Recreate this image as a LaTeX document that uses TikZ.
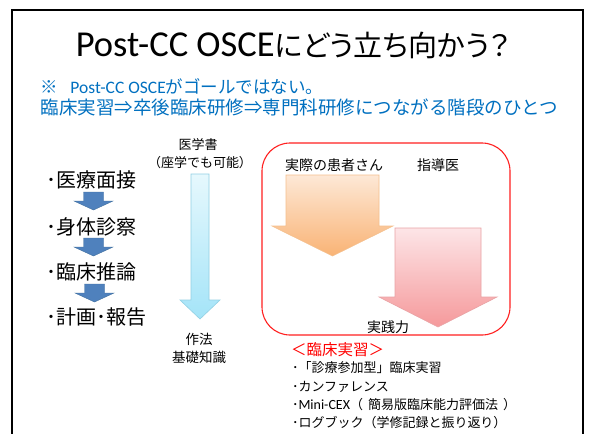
\documentclass[tikz,border=0pt]{standalone}
\usepackage{fontspec}
\setmainfont{Carlito}
\newfontfamily\lat{Carlito}
\newfontfamily\jp{Noto Sans CJK JP}
\newfontfamily\jpp{Noto Sans CJK JP}[RawFeature=+palt]
\definecolor{blueTxt}{HTML}{0070C0}
\definecolor{stepBlue}{HTML}{4F81BD}
\definecolor{stepBlueEdge}{HTML}{41709F}
\definecolor{cyanTop}{HTML}{E6F8FD}
\definecolor{cyanBot}{HTML}{A4E4F8}
\definecolor{cyanEdge}{HTML}{92D0E4}
\definecolor{oraTop}{HTML}{FDE8D6}
\definecolor{oraBot}{HTML}{F9B375}
\definecolor{oraEdge}{HTML}{F5C08E}
\definecolor{pinkTop}{HTML}{FDE5E7}
\definecolor{pinkBot}{HTML}{F5999B}
\definecolor{pinkEdge}{HTML}{E9A3A5}
\definecolor{redLine}{HTML}{FF2020}
\newcommand{\blockdownarrow}[7]{%
  \path[#1] (#2-#4,#3) -- (#2+#4,#3) -- (#2+#4,#5) -- (#2+#6,#5) -- (#2,#7)
    -- (#2-#6,#5) -- (#2-#4,#5) -- cycle;}
\begin{document}
\begin{tikzpicture}[x=1pt,y=-1pt,
  every node/.style={inner sep=0pt,outer sep=0pt},
  steptxt/.style={anchor=west,font=\jp\fontsize{20}{22}\selectfont},
  smalltxt/.style={font=\jp\fontsize{13}{15}\selectfont},
  boxtxt/.style={font=\jp\fontsize{14}{16}\selectfont},
  listtxt/.style={anchor=west,font=\jp\fontsize{13}{15}\selectfont},
  bluetxt/.style={anchor=west,text=blueTxt},
  stepshape/.style={fill=stepBlue,draw=stepBlueEdge,line width=0.4pt},
  cyanshape/.style={top color=cyanTop,bottom color=cyanBot,draw=cyanEdge,line width=0.6pt},
  orashape/.style={top color=oraTop,bottom color=oraBot,draw=oraEdge,line width=0.6pt},
  pinkshape/.style={top color=pinkTop,bottom color=pinkBot,draw=pinkEdge,line width=0.6pt}]
\useasboundingbox (0,0) rectangle (590,434);
\fill[white] (0,0) rectangle (590,434);
% frame
\draw[line width=1.6pt] (12,434) -- (12,10) -- (583,10) -- (583,434);
% title
\node (title) at (293,45) {\lat\fontsize{36.5}{40}\selectfont Post-CC OSCE\jpp\fontsize{29}{32}\selectfont にどう立ち向かう？};
\node[bluetxt] (sub1) at (41,87) {\jp\fontsize{17.5}{19}\selectfont ※\hspace{12pt}\lat Post-CC OSCE\jp がゴールではない。};
\node[bluetxt] (sub2) at (41,107) {\jp\fontsize{18.5}{20}\selectfont 臨床実習⇒卒後臨床研修⇒専門科研修につながる階段のひとつ};
% left steps
\node[steptxt] (s1) at (46,180) {･医療面接};
\node[steptxt] (s2) at (46,227) {･身体診察};
\node[steptxt] (s3) at (46,272) {･臨床推論};
\node[steptxt] (s4) at (46,317) {･計画･報告};
\blockdownarrow{stepshape}{93.5}{192}{10}{201}{19.5}{210}
\blockdownarrow{stepshape}{93.5}{238}{10}{247}{19.5}{256}
\blockdownarrow{stepshape}{94.5}{284}{10}{293}{19.5}{302}
% light blue arrow
\node[smalltxt] (book) at (198,145) {医学書};
\node[smalltxt] (book2) at (200,163) {（座学でも可能）};
\blockdownarrow{cyanshape}{200}{174}{9}{300}{20}{319}
\node[smalltxt,font=\jp\fontsize{13.5}{15}\selectfont] (manner) at (199,339) {作法};
\node[smalltxt,font=\jp\fontsize{13.5}{15}\selectfont] (basic) at (199,357) {基礎知識};
% red box
\draw[redLine,line width=1.1pt,rounded corners=28pt] (262,143) rectangle (510,335);
\node[boxtxt] (patient) at (334,165) {実際の患者さん};
\node[boxtxt] (mentor) at (438,165) {指導医};
\blockdownarrow{orashape}{332.5}{175}{46.5}{226}{60.5}{256}
\blockdownarrow{pinkshape}{438}{228}{43}{297}{59}{327}
\node[boxtxt] (skill) at (388,327) {実践力};
% list
\node[anchor=west,text=red,font=\jp\fontsize{15.5}{17}\selectfont] (cc) at (291,350) {＜臨床実習＞};
\node[listtxt] (l1) at (292,368) {･「診療参加型」臨床実習};
\node[listtxt] (l2) at (292,387) {･カンファレンス};
\node[listtxt] (l3) at (292,405) {･\lat\fontsize{14}{15}\selectfont Mini-CEX\jp\fontsize{13}{15}\selectfont （\hspace{5pt}簡易版臨床能力評価法\hspace{5pt}）};
\node[listtxt] (l4) at (292,423) {･ログブック（学修記録と振り返り）};
\end{tikzpicture}
\end{document}
